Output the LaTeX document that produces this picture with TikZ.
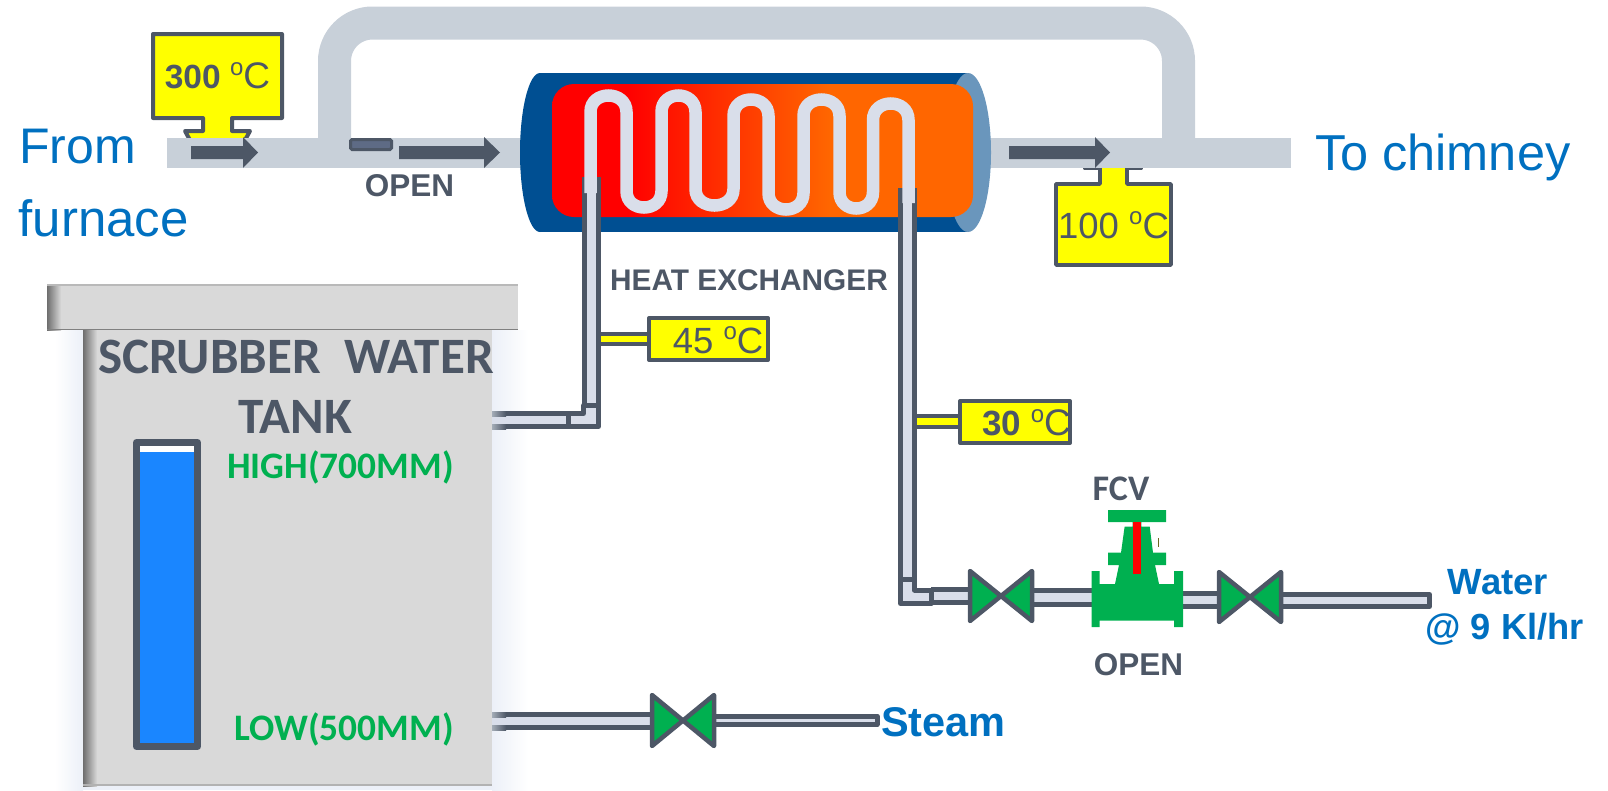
\documentclass[tikz,border=0pt]{standalone}
\usepackage{fontspec}
\setmainfont{Liberation Sans}
\newfontfamily\carl{Carlito}
\definecolor{dk}{HTML}{4D5766}
\definecolor{lt}{HTML}{D9DEEA}
\definecolor{gas}{HTML}{C8D0D9}
\definecolor{navy}{HTML}{004F92}
\definecolor{endcap}{HTML}{6A96BC}
\definecolor{hxor}{HTML}{FF6600}
\definecolor{grn}{HTML}{00B050}
\definecolor{txtblue}{HTML}{0070C0}
\definecolor{tankg}{HTML}{D9D9D9}
\definecolor{tankd}{HTML}{6E6E6E}
\definecolor{glowc}{HTML}{ECF0F8}
\definecolor{lvl}{HTML}{1A86FF}
\definecolor{ylw}{HTML}{FFFF00}
\definecolor{damp}{HTML}{5E6B85}
\pgfdeclarehorizontalshading{hxshade}{100bp}{color(0bp)=(red); color(34bp)=(red); color(58bp)=(hxor); color(100bp)=(hxor)}
\newcommand{\fs}[1]{\fontsize{#1}{#1}\selectfont}
\newcommand{\dg}[1]{\raisebox{.36em}{\fontsize{#1}{#1}\selectfont o}}
\newcommand{\vlv}[4]{\draw[valve] (#1-#3,#2-#4) -- (#1+#3,#2+#4) -- (#1+#3,#2-#4) -- (#1-#3,#2+#4) -- cycle;}
\tikzset{
  pipe/.style={draw=dk,line width=5pt,double=lt,double distance=8.5pt},
  stem/.style={draw=dk,line width=4pt,double=ylw,double distance=6.5pt},
  elbow/.style={draw=dk,fill=lt,line width=5pt,line join=round},
  valve/.style={draw=dk,fill=grn,line width=4.5pt,line join=round},
  sensor/.style={draw=dk,fill=ylw,line width=4pt,line join=round},
  coil/.style={draw=lt,line width=12.5pt},
  grayB/.style={inner sep=0,outer sep=0,text=dk,font=\bfseries},
  bluetxt/.style={inner sep=0,outer sep=0,text=txtblue},
  tlabel/.style={inner sep=0,outer sep=0,text=dk},
}
\begin{document}
\begin{tikzpicture}[x=1pt,y=-1pt]
\useasboundingbox (0,0) rectangle (1608,790);
% tank glow
\shade[left color=white,right color=glowc] (55,330) rectangle (83,790);
\shade[left color=glowc,right color=white] (492,330) rectangle (528,790);
\fill[glowc] (83,786) rectangle (492,790);
% gas line
\draw[gas,line width=33pt,rounded corners=38pt] (334.5,150) -- (334.5,23) -- (1178.5,23) -- (1178.5,150);
% sensors under the gas line
\draw[sensor] (153,34) -- (282,34) -- (282,118) -- (232,118) -- (232,131) -- (250,131) -- (244,142) -- (191,142) -- (185,131) -- (203,131) -- (203,118) -- (153,118) -- cycle;
\draw[sensor,line width=3.5pt] (1056,184) -- (1100,184) -- (1100,168.5) -- (1085,168.5) -- (1085,160) -- (1141,160) -- (1141,168.5) -- (1127,168.5) -- (1127,184) -- (1171,184) -- (1171,265) -- (1056,265) -- cycle;
\fill[gas] (167,138) rectangle (1291,168);
% arrows
\foreach \a/\b/\c in {191/258/243,399/500/484,1009/1110/1095}{
  \fill[dk] (\a,146) -- (\c,146) -- (\c,137) -- (\b,152.5) -- (\c,168) -- (\c,159) -- (\a,159) -- cycle;
}
% damper
\draw[dk,fill=damp,line width=3pt,rounded corners=1.5pt] (350.5,139.5) rectangle (391.5,149.5);
% exchanger
\fill[navy] (540,152.5) ellipse [x radius=20pt,y radius=79.5pt];
\fill[navy] (540,73) rectangle (968,232);
\fill[endcap] (968,152.5) ellipse [x radius=23pt,y radius=79.5pt];
\shade[shading=hxshade,rounded corners=22pt] (552,84) rectangle (973,217);
% water risers
\draw[pipe] (591.5,177) -- (591.5,405);
\draw[pipe] (907.5,188) -- (907.5,579);
\draw[coil] (590.5,193) -- (590.5,112) .. controls (590.5,90) and (626.5,90) .. (626.5,112) -- (626.5,191)
  .. controls (626.5,213) and (661.5,213) .. (661.5,191) -- (661.5,112)
  .. controls (661.5,90) and (695.5,90) .. (695.5,112) -- (695.5,189)
  .. controls (695.5,211) and (733.5,211) .. (733.5,189) -- (733.5,116)
  .. controls (733.5,94) and (768.5,94) .. (768.5,116) -- (768.5,193)
  .. controls (768.5,215) and (803.5,215) .. (803.5,193) -- (803.5,116)
  .. controls (803.5,94) and (839.5,94) .. (839.5,116) -- (839.5,192)
  .. controls (839.5,214) and (873,214) .. (873,192) -- (873,120)
  .. controls (873,98) and (908.5,98) .. (908.5,120) -- (908.5,203);
% outlet to tank
\draw[pipe] (492,420) -- (568,420);
\foreach \ya/\yb in {411/416,424/429}{
  \shade[left color=gas!70!dk,right color=dk] (492,\ya) rectangle (506,\yb);
}
\draw[elbow] (583.5,405.5) -- (598.5,405.5) -- (598.5,426.5) -- (568.5,426.5) -- (568.5,413.5) -- (583.5,413.5) -- cycle;
% feed line
\draw[pipe] (931,596) -- (970,596);
\draw[elbow] (900.5,579.5) -- (914.5,579.5) -- (914.5,590) -- (931,590) -- (931,603.5) -- (900.5,603.5) -- cycle;
\draw[pipe] (1031,597.5) -- (1095,597.5);
\draw[pipe] (1180,600) -- (1220,600);
\draw[elbow,line width=5pt] (1280,594.5) rectangle (1429.5,606.5);
\vlv{1001}{596}{31}{25}
\vlv{1250}{597}{31}{25}
% FCV
\fill[grn] (1091.5,571) -- (1099.5,571) -- (1099.5,584) -- (1115,584) -- (1119,565) -- (1108,565) -- (1108,552.7) -- (1121,552.7) -- (1124.6,526.7) -- (1132.5,526.7) -- (1132.5,522) -- (1108,522) -- (1108,510) -- (1166,510) -- (1166,522) -- (1141.4,522) -- (1141.4,526.7) -- (1149.7,526.7) -- (1153,552.7) -- (1166,552.7) -- (1166,565) -- (1155,565) -- (1159,584) -- (1174,584) -- (1174,571) -- (1183,571) -- (1183,627) -- (1174,627) -- (1174,620.7) -- (1099.5,620.7) -- (1099.5,627) -- (1091.5,627) -- cycle;
\fill[red] (1132.5,522) rectangle (1141.4,574);
\draw[olive!70!black,line width=1pt] (1158,538) -- (1158,547);
% temperature stems
\draw[stem] (601,339) -- (650,339);
\draw[stem] (917,421.5) -- (962,421.5);
\draw[sensor] (649,318) rectangle (768,360);
\draw[sensor] (960,401) rectangle (1070,443);
% tank
\fill[tankg] (83,330) rectangle (492,786);
\shade[left color=tankd,right color=tankg] (83,330) rectangle (97,786);
\fill[gray!60] (83,784) rectangle (492,786);
\fill[tankg] (47,284) rectangle (518,330);
\shade[left color=tankd,right color=tankg] (47,284) rectangle (61,330);
\fill[gray!55] (47,284) rectangle (518,285.5);
\fill[gray] (47,328.5) rectangle (518,330);
% gauge
\fill[white] (137,443) rectangle (197,746);
\fill[lvl] (137,452) rectangle (197,746);
\draw[dk,line width=7pt,line join=round] (136.5,442.5) rectangle (197.5,746.5);
% steam line
\draw[pipe] (492,721) -- (652,721);
\foreach \ya/\yb in {712/717,725/730}{
  \shade[left color=gas!70!dk,right color=dk] (492,\ya) rectangle (506,\yb);
}
\draw[elbow,line width=5pt] (713,716) rectangle (877,724.5);
\vlv{683}{720.5}{31}{25.5}
% labels
\node[bluetxt,anchor=base west] (from) at (19,163) {\fs{50}From};
\node[bluetxt,anchor=base west] (furn) at (18.5,236) {\fs{51}furnace};
\node[bluetxt,anchor=base west] (chim) at (1315,170) {\fs{50.5}To chimney};
\node[grayB,anchor=base] (open1) at (409.5,196) {\fs{31.5}OPEN};
\node[grayB,anchor=base] (hx) at (749,290) {\fs{29.8}HEAT EXCHANGER};
\node[tlabel,anchor=base] (t300) at (217.5,88) {\fs{33.5}\textbf{300} \dg{24}\fs{37}C};
\node[tlabel,anchor=base] (t100) at (1113.5,238) {\fs{36.5}100 \dg{24}C};
\node[tlabel,anchor=base] (t45) at (718,353) {\fs{36.5}45 \dg{24}C};
\node[tlabel,anchor=base] (t30) at (1026.5,435) {\fs{35}\textbf{30} \dg{24}\fs{37}C};
\node[tlabel,anchor=base,font=\carl\bfseries] (sw) at (296,373) {\fs{51}SCRUBBER\ \ WATER};
\node[tlabel,anchor=base,font=\carl\bfseries] (tank) at (295.5,433) {\fs{51}TANK};
\node[inner sep=0,outer sep=0,text=grn,anchor=base,font=\carl\bfseries] (high) at (340.5,478.5) {\fs{37.4}HIGH(700MM)};
\node[inner sep=0,outer sep=0,text=grn,anchor=base,font=\carl\bfseries] (low) at (344,740.5) {\fs{37.4}LOW(500MM)};
\node[tlabel,anchor=base,font=\carl\bfseries] (fcv) at (1121,500) {\fs{36}FCV};
\node[grayB,anchor=base] (open2) at (1138.5,675) {\fs{31.5}OPEN};
\node[bluetxt,anchor=base,font=\bfseries] (steam) at (943.5,736) {\fs{41.5}Steam};
\node[bluetxt,anchor=base,font=\bfseries] (water) at (1498,594) {\fs{36.5}Water};
\node[bluetxt,anchor=base,font=\bfseries] (rate) at (1504.5,639.5) {\fs{36.3}@ 9 Kl/hr};
\end{tikzpicture}
\end{document}
